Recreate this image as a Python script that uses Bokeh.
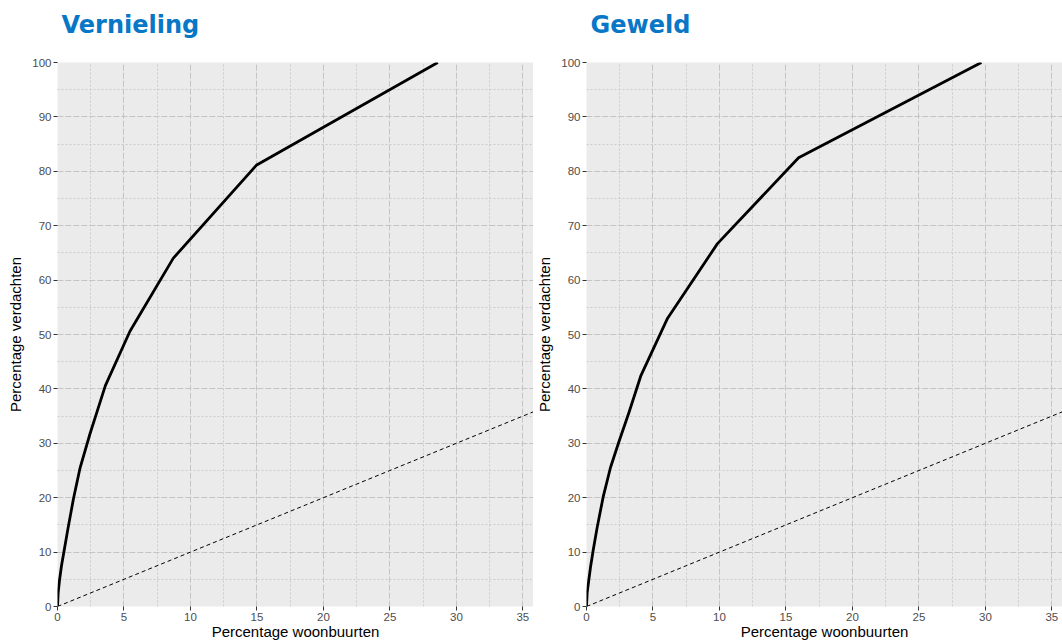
from bokeh.plotting import figure
from bokeh.models import Range1d, SingleIntervalTicker, Title
from bokeh.layouts import row
from bokeh.embed import file_html
from bokeh.resources import INLINE

# ---- data ----
vern_x = [0, 0.05, 0.15, 0.3, 0.5, 0.8, 1.2, 1.7, 2.45, 3.0, 3.6, 5.45, 8.7, 14.95, 28.6]
vern_y = [0, 2.5, 4.8, 7.5, 10.3, 14.5, 19.8, 25.5, 31.8, 36.0, 40.6, 50.6, 64.0, 81.1, 100]
gew_x = [0, 0.05, 0.17, 0.3, 0.5, 0.8, 1.25, 1.8, 2.4, 3.2, 4.1, 6.1, 9.85, 15.95, 29.7]
gew_y = [0, 2.5, 4.8, 7.2, 10.3, 14.5, 20.1, 25.5, 30.0, 35.7, 42.5, 53.0, 66.7, 82.5, 100]
diag_x = [0, 100]
diag_y = [0, 100]
titles = ["Vernieling", "Geweld"]
x_label = "Percentage woonbuurten"
y_label = "Percentage verdachten"
x_max = 35.8
y_max = 100

TICK_FONT = "Liberation Sans"


def panel(title, xs, ys, width, border_left):
    p = figure(width=width, height=642, output_backend="svg", toolbar_location=None,
               x_range=Range1d(0, x_max), y_range=Range1d(0, y_max),
               min_border_left=border_left, min_border_right=0,
               min_border_top=62, min_border_bottom=0)
    p.background_fill_color = "#ebebeb"
    p.border_fill_color = "white"
    p.outline_line_color = None

    # spacer between title and plot area (closest to the frame)
    spacer = Title(text=" ", text_font_size="1px", standoff=13, text_color="white")
    p.add_layout(spacer, "above")
    main = Title(text=title, text_font="DejaVu Sans", text_font_style="bold",
                 text_font_size="24px", text_color="#0877c6", align="left",
                 offset=4, standoff=15)
    p.add_layout(main, "above")

    p.xaxis.ticker = SingleIntervalTicker(interval=5, num_minor_ticks=2)
    p.yaxis.ticker = SingleIntervalTicker(interval=10, num_minor_ticks=2)
    for ax in (p.xaxis, p.yaxis):
        ax.axis_line_color = None
        ax.major_tick_in = 0
        ax.major_tick_out = 4
        ax.major_tick_line_color = "#333333"
        ax.minor_tick_line_color = None
        ax.major_label_text_font = TICK_FONT
        ax.major_label_text_font_size = "11.5px"
        ax.major_label_text_color = "#4d4d4d"
        ax.major_label_standoff = 2
        ax.axis_label_text_font = TICK_FONT
        ax.axis_label_text_font_size = "15px"
        ax.axis_label_text_font_style = "normal"
        ax.axis_label_text_color = "black"
    p.yaxis.axis_label = y_label
    p.yaxis.axis_label_standoff = 5
    p.xaxis.axis_label = x_label
    p.xaxis.axis_label_standoff = -1

    for g in (p.xgrid, p.ygrid):
        g.grid_line_color = "#c4c4c4"
        g.grid_line_dash = "5 3"
        g.grid_line_width = 1
        g.minor_grid_line_color = "#cbcbcb"
        g.minor_grid_line_dash = "2 2"
        g.minor_grid_line_width = 1

    p.line(diag_x, diag_y, line_color="black", line_width=1, line_dash="4 3")
    p.line(xs, ys, line_color="black", line_width=2.8, line_join="round")
    return p


p1 = panel(titles[0], vern_x, vern_y, 533, 57)
p2 = panel(titles[1], gew_x, gew_y, 529, 52)
layout = row(p1, p2)

open("out.html", "w").write(file_html(layout, INLINE))
